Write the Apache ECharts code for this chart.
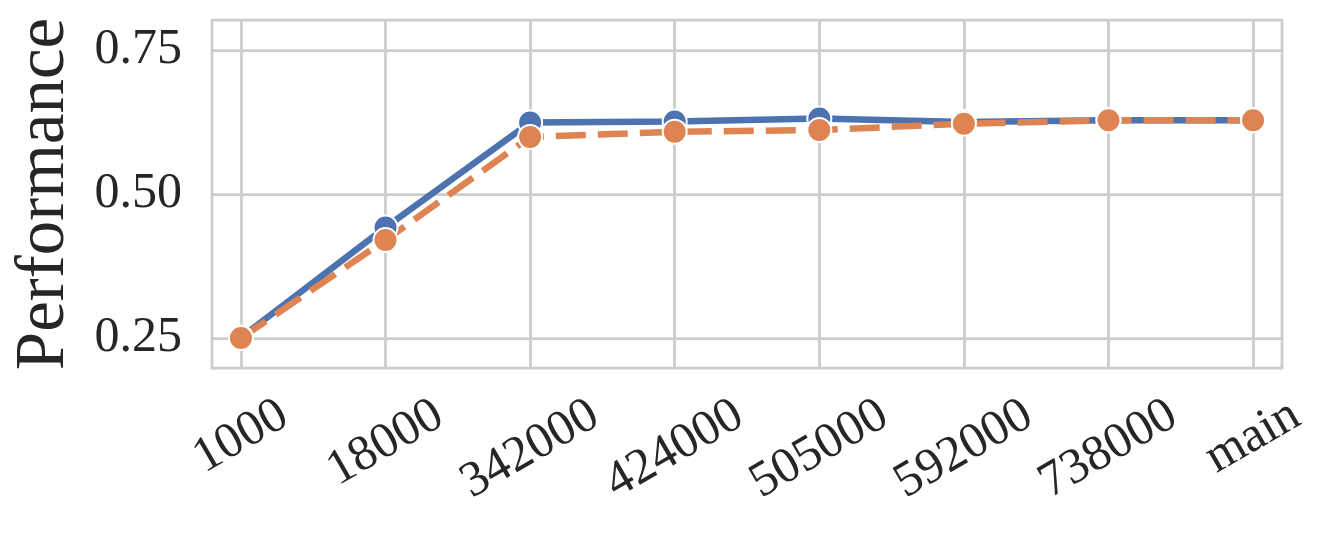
<!DOCTYPE html>
<html>
<head>
<meta charset="utf-8">
<script src="https://cdn.jsdelivr.net/npm/echarts@6/dist/echarts.min.js"></script>
<style>
  html, body { margin: 0; padding: 0; background: #fff; }
  #chart { width: 1330px; height: 535px; }
</style>
</head>
<body>
<div id="chart"></div>
<script>
// checkpoints on the x axis
const categories = ['1000', '18000', '342000', '424000', '505000', '592000', '738000', 'main'];
// two runs
const seriesA = [0.251, 0.442, 0.624, 0.626, 0.631, 0.625, 0.628, 0.628];
const seriesB = [0.250, 0.420, 0.599, 0.608, 0.611, 0.622, 0.628, 0.628];
const yTicks = [0.25, 0.5, 0.75];
const yName = 'Performance';

const FONT = '"Liberation Serif", "Times New Roman", serif';
const ROT = 30;
const LABEL_SIZE = 50;

// matplotlib keeps the tops of rotated labels aligned; echarts centres them,
// so push longer labels down with padding
const ctx = document.createElement('canvas').getContext('2d');
ctx.font = LABEL_SIZE + 'px ' + FONT;
const widths = categories.map(c => ctx.measureText(c).width);
const minW = Math.min(...widths);
const rad = ROT * Math.PI / 180;
const rich = {};
categories.forEach((c, i) => {
  const dw = widths[i] - minW;
  rich['c' + i] = {
    fontFamily: FONT,
    fontSize: LABEL_SIZE,
    color: '#262626',
    padding: [dw * Math.sin(rad) * Math.cos(rad), dw * Math.sin(rad) * Math.sin(rad), 0, 0]
  };
});

const xIdx = categories.map((c, i) => i);
const toPoints = arr => arr.map((v, i) => [i, v]);

const chart = echarts.init(document.getElementById('chart'));
chart.setOption({
  animation: false,
  grid: {
    left: 212, right: 48, top: 20, bottom: 167,
    show: true,
    borderColor: '#cccccc',
    borderWidth: 2.75
  },
  xAxis: {
    type: 'value',
    min: -0.2,
    max: 7.2,
    axisLine: { show: false },
    axisTick: { show: false, customValues: xIdx },
    splitLine: { show: true, lineStyle: { color: '#cccccc', width: 2.75 } },
    axisLabel: {
      customValues: xIdx,
      rotate: ROT,
      align: 'center',
      verticalAlign: 'middle',
      margin: 69,
      fontFamily: FONT,
      fontSize: LABEL_SIZE,
      color: '#262626',
      formatter: v => '{c' + Math.round(v) + '|' + categories[Math.round(v)] + '}',
      rich: rich
    }
  },
  yAxis: {
    type: 'value',
    min: 0.198,
    max: 0.802,
    name: yName,
    nameLocation: 'middle',
    nameGap: 133,
    nameTextStyle: { fontFamily: FONT, fontSize: 69, color: '#262626' },
    axisLine: { show: false },
    axisTick: { show: false, customValues: yTicks },
    splitLine: { show: true, lineStyle: { color: '#cccccc', width: 2.75 } },
    axisLabel: {
      customValues: yTicks,
      margin: 30,
      fontFamily: FONT,
      fontSize: 50,
      color: '#262626',
      formatter: v => v.toFixed(2)
    }
  },
  series: [
    {
      type: 'line',
      data: toPoints(seriesA),
      symbol: 'circle',
      symbolSize: 24,
      lineStyle: { color: '#4C72B0', width: 6.5 },
      itemStyle: { color: '#4C72B0', borderColor: '#ffffff', borderWidth: 2 }
    },
    {
      type: 'line',
      data: toPoints(seriesB),
      symbol: 'circle',
      symbolSize: 24,
      lineStyle: { color: '#DD8452', width: 6.5, type: [30, 12] },
      itemStyle: { color: '#DD8452', borderColor: '#ffffff', borderWidth: 2 }
    }
  ]
});
</script>
</body>
</html>
